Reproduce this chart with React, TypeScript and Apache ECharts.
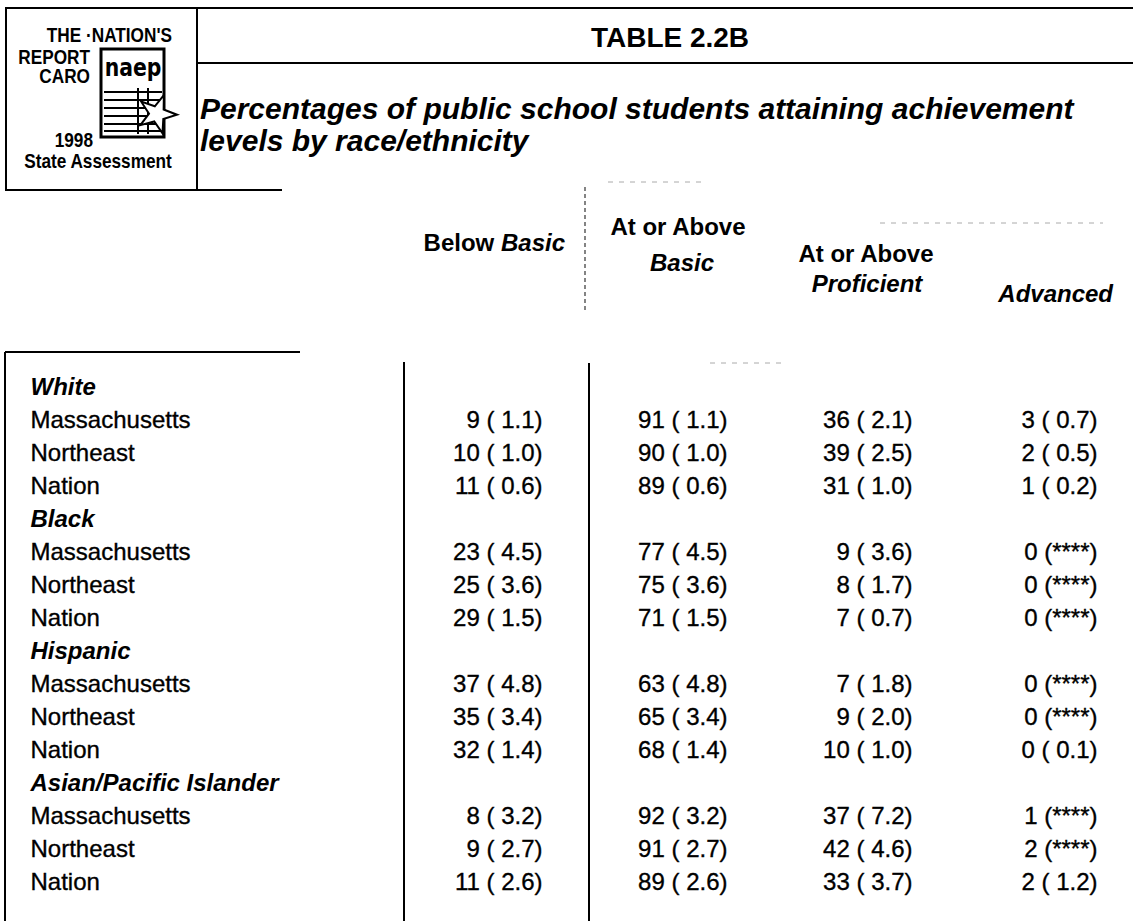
import React, { useEffect, useRef } from "react";
import * as echarts from "echarts";

// ---------- data ----------
const groups = ["White", "Black", "Hispanic", "Asian/Pacific Islander"];
const jurisdictions = ["Massachusetts", "Northeast", "Nation"];

const belowBasic = [9, 10, 11, 23, 25, 29, 37, 35, 32, 8, 9, 11];
const belowBasicSE = ["1.1", "1.0", "0.6", "4.5", "3.6", "1.5", "4.8", "3.4", "1.4", "3.2", "2.7", "2.6"];
const atOrAboveBasic = [91, 90, 89, 77, 75, 71, 63, 65, 68, 92, 91, 89];
const atOrAboveBasicSE = ["1.1", "1.0", "0.6", "4.5", "3.6", "1.5", "4.8", "3.4", "1.4", "3.2", "2.7", "2.6"];
const atOrAboveProficient = [36, 39, 31, 9, 8, 7, 7, 9, 10, 37, 42, 33];
const atOrAboveProficientSE = ["2.1", "2.5", "1.0", "3.6", "1.7", "0.7", "1.8", "2.0", "1.0", "7.2", "4.6", "3.7"];
const advanced = [3, 2, 1, 0, 0, 0, 0, 0, 0, 1, 2, 2];
const advancedSE = ["0.7", "0.5", "0.2", "****", "****", "****", "****", "****", "0.1", "****", "****", "1.2"];

const tableTitle = "TABLE 2.2B";
const subtitleLines = [
  "Percentages of public school students attaining achievement",
  "levels by race/ethnicity",
];

// ---------- helpers ----------
const FONT = "'Liberation Sans', Arial, Helvetica, sans-serif";
const INK = "#000";

const rowKeys: string[] = [];
groups.forEach((g, gi) => {
  rowKeys.push(`g${gi}`);
  jurisdictions.forEach((j, ji) => rowKeys.push(`r${gi}-${ji}`));
});

const columns = [
  { v: belowBasic, se: belowBasicSE },
  { v: atOrAboveBasic, se: atOrAboveBasicSE },
  { v: atOrAboveProficient, se: atOrAboveProficientSE },
  { v: advanced, se: advancedSE },
];

function cellText(p: number, se: string) {
  return se === "****" ? `${p} (****)` : `${p} ( ${se})`;
}

function line(x1: number, y1: number, x2: number, y2: number, lw = 1.6, stroke = INK, dash?: number[]) {
  return {
    type: "line",
    shape: { x1, y1, x2, y2 },
    style: { stroke, lineWidth: lw, lineDash: dash },
    silent: true,
  };
}

function txt(text: string, x: number, y: number, opts: any = {}) {
  const { align = "left", size = 24, weight = "normal", style = "normal", scaleX = 1, rich, family = FONT, z = 10 } = opts;
  return {
    type: "text",
    x,
    y,
    scaleX,
    z,
    silent: true,
    style: {
      text,
      x: 0,
      y: 0,
      fill: INK,
      fontFamily: family,
      fontSize: size,
      fontWeight: weight,
      fontStyle: style,
      textAlign: align,
      textVerticalAlign: "middle",
      verticalAlign: "middle",
      align,
      rich,
    },
  };
}

function starPoints(cx: number, cy: number, R: number, r: number, rot: number) {
  const pts: number[][] = [];
  for (let i = 0; i < 10; i++) {
    const rad = i % 2 === 0 ? R : r;
    const a = rot + (i * Math.PI) / 5;
    pts.push([cx + rad * Math.cos(a), cy + rad * Math.sin(a)]);
  }
  return pts;
}

const cellLabelBase = {
  show: true,
  color: INK,
  opacity: 1,
  fontFamily: FONT,
  fontSize: 24,
  textBorderColor: INK,
  textBorderWidth: 0.35,
};

export default function App() {
  const ref = useRef<HTMLDivElement>(null);

  useEffect(() => {
    if (!ref.current) return;
    const chart = echarts.init(ref.current, undefined, { renderer: "svg" });

    const richHeader = {
      b: { fontFamily: FONT, fontSize: 24, fontWeight: "bold", color: INK },
      i: { fontFamily: FONT, fontSize: 24, fontWeight: "bold", fontStyle: "italic", color: INK },
    };

    const logoLines: any[] = [];
    [92, 100, 108, 116, 124, 131].forEach((yy) => logoLines.push(line(104, yy, 162, yy, 2)));
    logoLines.push(line(138, 88, 138, 134, 2));
    logoLines.push(line(148, 88, 148, 134, 2));

    const graphics: any[] = [
      // header frame
      line(5, 8, 1133, 8, 2),
      line(6, 8, 6, 191, 2),
      line(197, 8, 197, 191, 2),
      line(5, 190, 282, 190, 2),
      line(197, 63, 1133, 63, 2),
      // logo texts
      txt("THE ·NATION'S", 172, 35, { align: "right", size: 21, weight: "bold", scaleX: 0.82 }),
      txt("REPORT", 90, 57, { align: "right", size: 21, weight: "bold", scaleX: 0.82 }),
      txt("CARO", 90, 76, { align: "right", size: 21, weight: "bold", scaleX: 0.82 }),
      txt("1998", 93, 140, { align: "right", size: 21, weight: "bold", scaleX: 0.82 }),
      txt("State Assessment", 98, 161, { align: "center", size: 21, weight: "bold", scaleX: 0.82 }),
      // logo card
      {
        type: "rect",
        shape: { x: 101, y: 49, width: 63, height: 88 },
        style: { fill: "#fff", stroke: INK, lineWidth: 3 },
        silent: true,
      },
      txt("naep", 133, 67, { align: "center", size: 24, weight: "bold", scaleX: 0.85, family: "'DejaVu Sans', sans-serif" }),
      ...logoLines,
      {
        type: "polygon",
        shape: { points: starPoints(157, 114, 20, 8, -Math.PI / 2 + 0.35) },
        style: { fill: "#fff", stroke: INK, lineWidth: 2 },
        silent: true,
      },
      // title
      txt(tableTitle, 670, 37, { align: "center", size: 28, weight: "bold" }),
      txt(subtitleLines[0], 200, 108, { size: 30, weight: "bold", style: "italic" }),
      txt(subtitleLines[1], 200, 140, { size: 30, weight: "bold", style: "italic" }),
      // column headers
      txt("{b|Below} {i|Basic}", 565, 242, { align: "right", rich: richHeader }),
      txt("At or Above", 678, 226, { align: "center", weight: "bold" }),
      txt("Basic", 682, 262, { align: "center", weight: "bold", style: "italic" }),
      txt("At or Above", 866, 253, { align: "center", weight: "bold" }),
      txt("Proficient", 867, 283, { align: "center", weight: "bold", style: "italic" }),
      txt("Advanced", 1113, 293, { align: "right", weight: "bold", style: "italic" }),
      // faint header rules (scan remnants)
      line(585, 187, 585, 310, 1.2, "#333", [4, 3]),
      line(608, 182, 702, 182, 1, "#aaa", [5, 6]),
      line(880, 223, 1103, 223, 1, "#aaa", [5, 6]),
      line(710, 363, 782, 363, 1, "#aaa", [5, 6]),
      // table frame
      line(5, 352, 300, 352, 2),
      line(5, 352, 5, 921, 2),
      line(404, 362, 404, 921, 2),
      line(589, 363, 589, 921, 2),
    ];

    const groupData = groups.map((g, gi) => ({ value: [0, `g${gi}`], name: g }));
    const rowData: any[] = [];
    groups.forEach((g, gi) =>
      jurisdictions.forEach((j, ji) => rowData.push({ value: [0, `r${gi}-${ji}`], name: j }))
    );

    const hiddenItem = { color: "transparent", opacity: 1 };

    const valueSeries = columns.map((col, ci) => {
      const data: any[] = [];
      groups.forEach((g, gi) =>
        jurisdictions.forEach((j, ji) => {
          const k = gi * jurisdictions.length + ji;
          data.push({ value: [ci + 1, `r${gi}-${ji}`], pct: col.v[k], se: col.se[k] });
        })
      );
      return {
        type: "scatter",
        xAxisIndex: 0,
        yAxisIndex: 0,
        symbolSize: 1,
        itemStyle: hiddenItem,
        silent: true,
        data,
        label: {
          ...cellLabelBase,
          position: "left",
          distance: 0,
          formatter: (p: any) => cellText(p.data.pct, p.data.se),
        },
      };
    });

    const top = 369.5;
    const height = 528;

    chart.setOption({
      animation: false,
      backgroundColor: "#fff",
      grid: [
        { left: 358, top, width: 740, height },
        { left: 30, top, width: 100, height },
      ],
      xAxis: [
        { type: "value", gridIndex: 0, min: 0, max: 4, show: false },
        { type: "value", gridIndex: 1, min: 0, max: 1, show: false },
      ],
      yAxis: [
        { type: "category", gridIndex: 0, data: rowKeys, inverse: true, show: false },
        { type: "category", gridIndex: 1, data: rowKeys, inverse: true, show: false },
      ],
      series: [
        {
          type: "scatter",
          xAxisIndex: 1,
          yAxisIndex: 1,
          symbolSize: 1,
          itemStyle: hiddenItem,
          silent: true,
          data: groupData,
          label: {
            ...cellLabelBase,
            textBorderWidth: 0,
            position: "right",
            distance: 0,
            fontWeight: "bold",
            fontStyle: "italic",
            formatter: "{b}",
          },
        },
        {
          type: "scatter",
          xAxisIndex: 1,
          yAxisIndex: 1,
          symbolSize: 1,
          itemStyle: hiddenItem,
          silent: true,
          data: rowData,
          label: {
            ...cellLabelBase,
            position: "right",
            distance: 0,
            formatter: "{b}",
          },
        },
        ...valueSeries,
      ],
      graphic: { elements: graphics },
    });

    return () => chart.dispose();
  }, []);

  return (
    <div
      ref={ref}
      style={{ position: "fixed", left: 0, top: 0, width: 1133, height: 921, background: "#fff" }}
    />
  );
}
